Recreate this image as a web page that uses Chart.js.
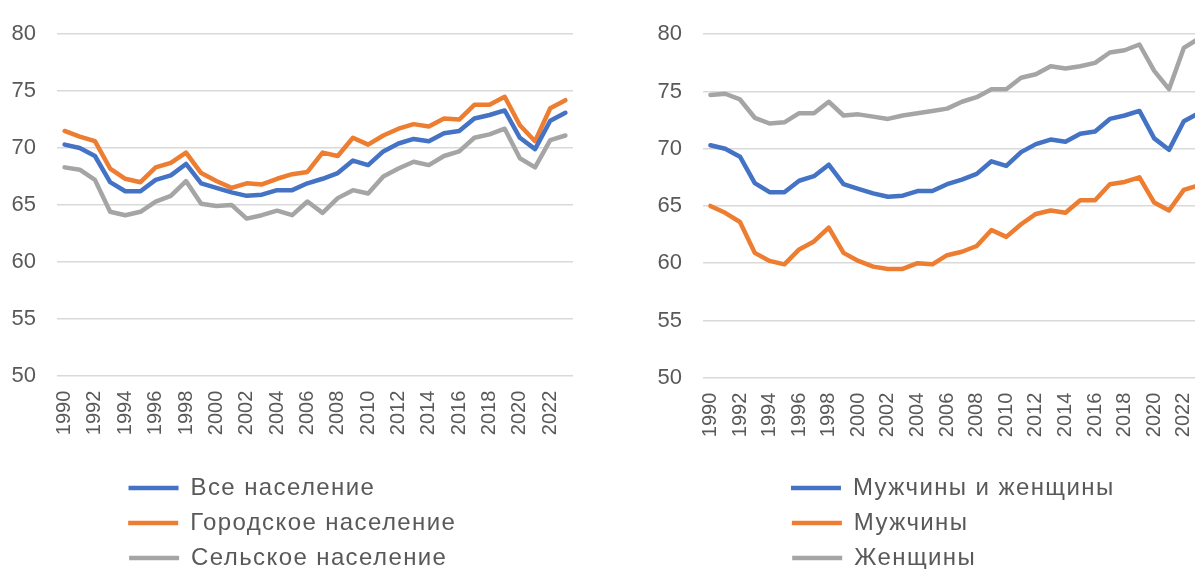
<!DOCTYPE html>
<html><head><meta charset="utf-8">
<script src="https://cdn.jsdelivr.net/npm/chart.js@4"></script>
<style>
html,body{margin:0;padding:0;background:#fff;overflow:hidden;width:1195px;height:569px;position:relative;}
.box{position:absolute;top:0;height:590px;}
#c1{left:0;width:573px;}
#c2{left:646px;width:602px;}
</style></head><body>
<div class="box" id="c1"><canvas id="chart1"></canvas></div>
<div class="box" id="c2"><canvas id="chart2"></canvas></div>
<script>
const years = ['1990','1991','1992','1993','1994','1995','1996','1997','1998','1999','2000','2001','2002','2003','2004','2005','2006','2007','2008','2009','2010','2011','2012','2013','2014','2015','2016','2017','2018','2019','2020','2021','2022','2023'];
const allPop = [70.3,70.0,69.3,67.0,66.2,66.2,67.2,67.6,68.6,66.9,66.5,66.1,65.8,65.9,66.3,66.3,66.9,67.3,67.8,68.9,68.5,69.7,70.4,70.8,70.6,71.3,71.5,72.6,72.9,73.3,70.9,69.9,72.4,73.1];
const urban = [71.5,71.0,70.6,68.2,67.3,67.0,68.3,68.7,69.6,67.8,67.1,66.5,66.9,66.8,67.3,67.7,67.9,69.6,69.3,70.9,70.3,71.1,71.7,72.1,71.9,72.6,72.5,73.8,73.8,74.5,72.0,70.6,73.5,74.2];
const rural = [68.3,68.1,67.2,64.4,64.1,64.4,65.3,65.8,67.1,65.1,64.9,65.0,63.8,64.1,64.5,64.1,65.3,64.3,65.6,66.3,66.0,67.5,68.2,68.8,68.5,69.3,69.7,70.9,71.2,71.7,69.1,68.3,70.7,71.1];
const men = [65.0,64.4,63.6,60.9,60.2,59.9,61.2,61.9,63.1,60.9,60.2,59.7,59.5,59.5,60.0,59.9,60.7,61.0,61.5,62.9,62.3,63.4,64.3,64.6,64.4,65.5,65.5,66.9,67.1,67.5,65.3,64.6,66.4,66.8];
const women = [74.7,74.8,74.3,72.7,72.2,72.3,73.1,73.1,74.1,72.9,73.0,72.8,72.6,72.9,73.1,73.3,73.5,74.1,74.5,75.2,75.2,76.2,76.5,77.2,77.0,77.2,77.5,78.4,78.6,79.1,76.8,75.2,78.8,79.6];
const yTicks = [50,55,60,65,70,75,80];
const names1 = ['Все население','Городское население','Сельское население'];
const names2 = ['Мужчины и женщины','Мужчины','Женщины'];
const colors = ['#4472C4','#ED7D31','#A5A5A5'];

const FONT = "'Liberation Sans', Arial, sans-serif";
const LEGEND_SIZE = 24;
const LEGEND_SPACING = '1.4px';

function paddedLabels(chart) {
  const items = Chart.defaults.plugins.legend.labels.generateLabels(chart);
  const ctx = chart.ctx;
  ctx.save();
  ctx.font = LEGEND_SIZE + 'px ' + FONT;
  ctx.letterSpacing = LEGEND_SPACING;
  const maxW = Math.max(...items.map(it => ctx.measureText(it.text).width));
  items.forEach(it => {
    let t = it.text, n = 0;
    while (n < 200 && ctx.measureText(t + ' ').width <= maxW + 0.5) { t += ' '; n++; }
    it.text = t;
  });
  ctx.restore();
  return items;
}

const legendSpacing = {
  id: 'legendSpacing',
  afterInit(chart) {
    const lg = chart.legend;
    if (!lg) return;
    const ofit = lg.fit.bind(lg), odraw = lg.draw.bind(lg);
    lg.fit = function () { const c = this.ctx; c.save(); c.letterSpacing = LEGEND_SPACING; ofit(); c.restore(); };
    lg.draw = function (a) { const c = this.ctx; c.save(); c.letterSpacing = LEGEND_SPACING; odraw(a); c.restore(); };
  }
};

function makeChart(id, names, series, opt) {
  const scales = {
    x: {
      offset: true,
      grid: { display: false, drawTicks: false },
      border: { display: false },
      ticks: {
        autoSkip: false, maxRotation: 90, minRotation: 90, padding: 15,
        color: '#595959', font: { family: FONT, size: 20 },
        callback: (v, i) => (i % 2 === 0 ? years[i] : '')
      },
      afterFit: s => { s.height = opt.xh; s.paddingLeft = 0; s.paddingRight = 0; }
    },
    y: {
      min: yTicks[0], max: yTicks[yTicks.length - 1],
      ticks: { stepSize: yTicks[1] - yTicks[0], padding: 21, color: '#595959', font: { family: FONT, size: 22 } },
      grid: { color: '#D9D9D9', lineWidth: 1.5, drawTicks: false },
      border: { display: false },
      afterFit: s => { s.width = 45.5; }
    }
  };
  if (opt.extra) {
    scales.y2 = {
      type: 'linear', position: 'right', display: true,
      grid: { display: false, drawTicks: false }, border: { display: false },
      ticks: { display: false },
      afterFit: s => { s.width = opt.extra; }
    };
  }
  return new Chart(document.getElementById(id), {
    type: 'line',
    data: {
      labels: years,
      datasets: series.map((d, i) => ({
        label: names[i], data: d,
        borderColor: colors[i], backgroundColor: colors[i],
        borderWidth: 4.5, borderCapStyle: 'round', borderJoinStyle: 'round',
        pointRadius: 0, pointHoverRadius: 0, tension: 0, fill: false
      }))
    },
    plugins: [legendSpacing],
    options: {
      responsive: true, maintainAspectRatio: false, animation: false, events: [],
      layout: { padding: { left: 11.5, right: 0, top: opt.top, bottom: 10 } },
      plugins: {
        tooltip: { enabled: false },
        legend: {
          position: 'bottom', align: 'center',
          labels: {
            usePointStyle: true, pointStyle: 'line', pointStyleWidth: 50,
            color: '#595959', font: { family: FONT, size: LEGEND_SIZE },
            padding: 11, generateLabels: paddedLabels
          }
        }
      },
      scales
    }
  });
}

makeChart('chart1', names1, [allPop, urban, rural], { top: 24, xh: 89.3, extra: 0 });
makeChart('chart2', names2, [allPop, men, women], { top: 25, xh: 87.3, extra: 42 });
</script>
</body></html>
